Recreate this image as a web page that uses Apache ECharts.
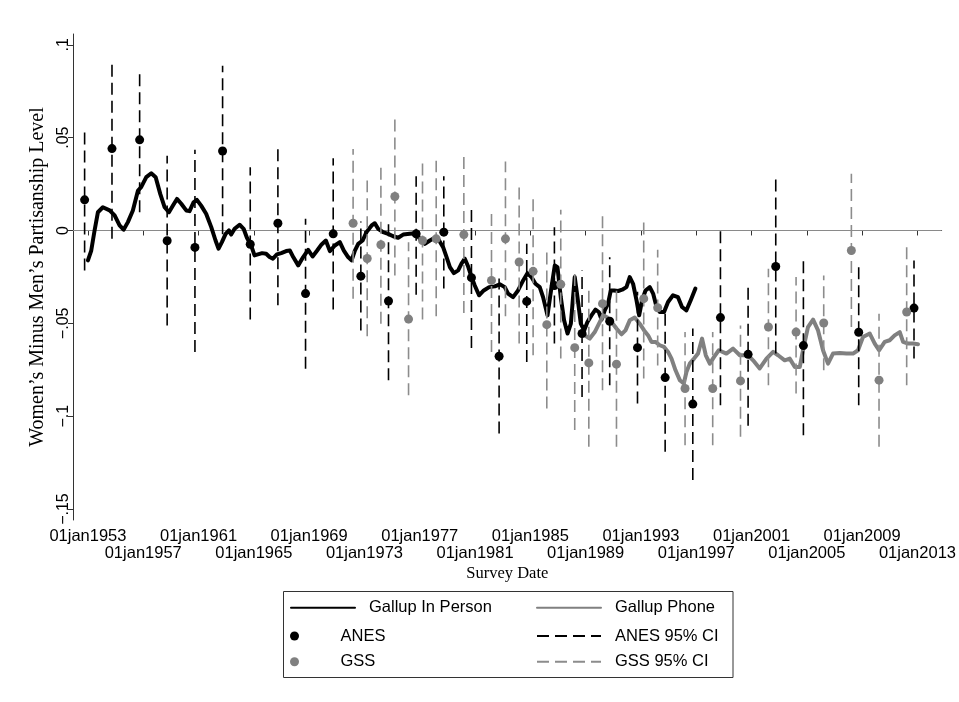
<!DOCTYPE html>
<html>
<head>
<meta charset="utf-8">
<script src="https://cdn.jsdelivr.net/npm/echarts@6/dist/echarts.min.js"></script>
<style>
html,body{margin:0;padding:0;background:#fff;}
#chart{width:959px;height:702px;}
</style>
</head>
<body>
<div id="chart"></div>
<script>
// ---------- data (decimal years, values) ----------
const xTickYears = [1953,1957,1961,1965,1969,1973,1977,1981,1985,1989,1993,1997,2001,2005,2009,2013];
const xLabelRow1 = [1953,1961,1969,1977,1985,1993,2001,2009];
const xLabelRow2 = [1957,1965,1973,1981,1989,1997,2005,2013];
const yTickValues = [-0.15,-0.1,-0.05,0,0.05,0.1];

const gallupInPersonDate = [1953.00,1953.24,1953.48,1953.72,1954.08,1954.57,1954.93,1955.29,1955.58,1955.89,
1956.25,1956.62,1956.85,1957.22,1957.58,1957.90,1958.23,1958.55,1958.86,1959.15,
1959.44,1959.75,1960.11,1960.35,1960.64,1960.88,1961.19,1961.55,1961.92,1962.23,
1962.45,1962.69,1962.96,1963.20,1963.36,1963.61,1963.97,1964.26,1964.50,1964.81,
1965.05,1965.29,1965.60,1965.89,1966.14,1966.38,1966.67,1966.98,1967.34,1967.61,
1967.85,1968.21,1968.57,1968.93,1969.25,1969.58,1969.90,1970.21,1970.50,1970.86,
1971.22,1971.51,1971.82,1972.07,1972.31,1972.55,1972.87,1973.15,1973.52,1973.75,
1973.99,1974.35,1974.71,1975.08,1975.44,1975.80,1976.28,1976.72,1977.01,1977.37,
1977.73,1978.09,1978.40,1978.69,1978.94,1979.18,1979.47,1979.78,1980.02,1980.26,
1980.50,1980.75,1980.98,1981.29,1981.63,1982.02,1982.43,1982.79,1983.15,1983.39,
1983.75,1984.11,1984.48,1984.79,1985.08,1985.37,1985.68,1985.92,1986.24,1986.53,
1986.77,1986.96,1987.20,1987.44,1987.69,1987.93,1988.21,1988.41,1988.65,1988.89,
1989.13,1989.42,1989.71,1989.95,1990.15,1990.38,1990.62,1990.82,1991.06,1991.35,
1991.64,1991.95,1992.19,1992.43,1992.68,1992.87,1993.08,1993.33,1993.64,1993.88,
1994.12,1994.36,1994.67,1994.96,1995.32,1995.68,1995.97,1996.29,1996.60,1996.94];
const gallupInPersonValue = [-0.0161,-0.0108,0.0000,0.0098,0.0125,0.0108,0.0081,0.0027,0.0004,0.0045,
0.0108,0.0215,0.0233,0.0287,0.0308,0.0287,0.0197,0.0125,0.0098,0.0134,
0.0170,0.0144,0.0108,0.0104,0.0152,0.0165,0.0134,0.0090,0.0018,-0.0054,
-0.0098,-0.0063,-0.0018,0.0000,-0.0022,0.0009,0.0031,0.0009,-0.0039,-0.0081,
-0.0134,-0.0129,-0.0122,-0.0125,-0.0143,-0.0152,-0.0129,-0.0122,-0.0111,-0.0108,
-0.0143,-0.0188,-0.0143,-0.0104,-0.0140,-0.0108,-0.0075,-0.0054,-0.0111,-0.0081,
-0.0063,-0.0108,-0.0143,-0.0161,-0.0108,-0.0072,-0.0054,-0.0009,0.0027,0.0039,
0.0009,-0.0009,-0.0018,-0.0031,-0.0039,-0.0022,-0.0018,-0.0015,-0.0045,-0.0072,
-0.0054,-0.0039,-0.0054,-0.0090,-0.0144,-0.0197,-0.0230,-0.0215,-0.0179,-0.0152,
-0.0194,-0.0251,-0.0296,-0.0349,-0.0323,-0.0305,-0.0301,-0.0290,-0.0305,-0.0340,
-0.0359,-0.0323,-0.0269,-0.0230,-0.0251,-0.0287,-0.0305,-0.0359,-0.0457,-0.0305,
-0.0188,-0.0197,-0.0359,-0.0484,-0.0555,-0.0502,-0.0251,-0.0359,-0.0502,-0.0538,
-0.0493,-0.0457,-0.0426,-0.0439,-0.0480,-0.0430,-0.0394,-0.0323,-0.0323,-0.0326,
-0.0319,-0.0305,-0.0251,-0.0287,-0.0376,-0.0457,-0.0376,-0.0323,-0.0305,-0.0340,
-0.0409,-0.0439,-0.0439,-0.0385,-0.0349,-0.0359,-0.0412,-0.0430,-0.0376,-0.0313];

const gallupPhoneDate = [1988.94,1989.30,1989.66,1990.02,1990.26,1990.58,1990.87,1991.23,1991.59,1991.88,
1992.19,1992.55,1992.91,1993.23,1993.52,1993.76,1994.05,1994.36,1994.67,1994.96,
1995.21,1995.50,1995.81,1996.10,1996.29,1996.53,1996.84,1997.13,1997.42,1997.69,
1997.98,1998.29,1998.63,1999.18,1999.66,2000.15,2000.75,2001.11,2001.59,2002.08,
2002.56,2002.92,2003.40,2003.76,2004.13,2004.49,2004.72,2005.08,2005.45,2005.81,
2006.17,2006.53,2006.89,2007.38,2007.86,2008.34,2008.70,2009.06,2009.55,2009.91,
2010.22,2010.63,2010.99,2011.35,2011.72,2011.96,2012.32,2012.68,2013.04];
const gallupPhoneValue = [-0.0565,-0.0582,-0.0547,-0.0493,-0.0457,-0.0469,-0.0493,-0.0528,-0.0559,-0.0538,
-0.0484,-0.0469,-0.0502,-0.0538,-0.0565,-0.0600,-0.0600,-0.0618,-0.0627,-0.0654,
-0.0690,-0.0753,-0.0806,-0.0824,-0.0762,-0.0717,-0.0690,-0.0663,-0.0582,-0.0672,
-0.0717,-0.0681,-0.0645,-0.0663,-0.0636,-0.0672,-0.0672,-0.0699,-0.0743,-0.0690,
-0.0654,-0.0672,-0.0699,-0.0690,-0.0735,-0.0735,-0.0645,-0.0520,-0.0480,-0.0538,
-0.0645,-0.0717,-0.0663,-0.0660,-0.0663,-0.0663,-0.0645,-0.0574,-0.0555,-0.0609,
-0.0645,-0.0600,-0.0591,-0.0565,-0.0547,-0.0600,-0.0609,-0.0609,-0.0613];

const anesDate = [1952.76,1954.74,1956.74,1958.73,1960.74,1962.74,1964.74,1966.74,1968.74,1970.74,
1972.74,1974.74,1976.74,1978.74,1980.74,1982.74,1984.74,1986.74,1988.74,1990.74,
1992.75,1994.75,1996.75,1998.75,2000.75,2002.75,2004.75,2008.75,2012.75];
const anesValue = [0.0165,0.0441,0.0488,-0.0055,-0.0091,0.0428,-0.0074,0.0039,-0.0340,-0.0018,
-0.0246,-0.0380,-0.0018,-0.0009,-0.0254,-0.0677,-0.0382,-0.0296,-0.0555,-0.0489,
-0.0631,-0.0792,-0.0935,-0.0469,-0.0667,-0.0194,-0.0620,-0.0548,-0.0418];
const anesLow = [-0.0215,-0.0045,0.0098,-0.0511,-0.0654,-0.0020,-0.0480,-0.0403,-0.0744,-0.0426,
-0.0538,-0.0806,-0.0346,-0.0313,-0.0633,-0.1093,-0.0708,-0.0609,-0.0896,-0.0833,
-0.0932,-0.1192,-0.1344,-0.0941,-0.1052,-0.0663,-0.1102,-0.0941,-0.0690];
const anesHigh = [0.0528,0.0923,0.0842,0.0403,0.0435,0.0887,0.0340,0.0457,0.0063,0.0389,
0.0048,0.0045,0.0292,0.0292,0.0117,-0.0258,-0.0072,0.0018,-0.0215,-0.0144,
-0.0330,-0.0448,-0.0528,0.0000,-0.0301,0.0287,-0.0144,-0.0188,-0.0161];

const gssDate = [1972.18,1973.20,1974.19,1975.20,1976.19,1977.20,1978.19,1980.19,1982.19,1983.20,
1984.19,1985.20,1986.19,1987.20,1988.21,1989.23,1990.22,1991.23,1993.20,1994.21,
1996.19,1998.19,2000.20,2002.22,2004.22,2006.22,2008.22,2010.22,2012.22];
const gssValue = [0.0039,-0.0151,-0.0077,0.0183,-0.0477,-0.0054,-0.0045,-0.0022,-0.0269,-0.0045,
-0.0170,-0.0220,-0.0507,-0.0290,-0.0631,-0.0713,-0.0394,-0.0720,-0.0367,-0.0416,
-0.0851,-0.0851,-0.0810,-0.0520,-0.0547,-0.0498,-0.0108,-0.0806,-0.0439];
const gssLow = [-0.0367,-0.0570,-0.0502,-0.0242,-0.0887,-0.0480,-0.0462,-0.0445,-0.0654,-0.0462,
-0.0609,-0.0672,-0.0959,-0.0690,-0.1075,-0.1165,-0.0860,-0.1165,-0.0797,-0.0727,
-0.1156,-0.1156,-0.1111,-0.0833,-0.0878,-0.0753,-0.0520,-0.1165,-0.0833];
const gssHigh = [0.0439,0.0269,0.0349,0.0601,-0.0063,0.0371,0.0376,0.0399,0.0093,0.0371,
0.0251,0.0188,-0.0090,0.0111,-0.0215,-0.0305,0.0081,-0.0305,0.0063,-0.0104,
-0.0547,-0.0547,-0.0511,-0.0206,-0.0251,-0.0242,0.0305,-0.0448,-0.0081];

// ---------- helpers ----------
function zip(a, b) { return a.map((v, i) => [v, b[i]]); }
function ciSegments(d, lo, hi) {
  const out = [];
  d.forEach((x, i) => { out.push([x, lo[i]], [x, hi[i]], [x, '-']); });
  return out;
}
const SANS = 'Liberation Sans, Arial, Helvetica, sans-serif';
const SERIF = 'Liberation Serif, Times New Roman, serif';
const GRAY = '#808080';
const DASH = [12, 6];
const X_MIN = 1951.92, X_MAX = 2014.75;

const chart = echarts.init(document.getElementById('chart'), null, {renderer: 'canvas'});

function legendItem(name, left, top, isLine) {
  const d = {name: name};
  if (isLine) d.itemStyle = {opacity: 0};
  else d.icon = 'circle';
  return {
    data: [d], left: left, top: top, orient: 'horizontal', padding: 0,
    itemWidth: 64, itemHeight: 9, selectedMode: false,
    textStyle: {fontFamily: SANS, fontSize: 16.5, color: '#000', lineHeight: 18, padding: [0, 0, 0, 9]}
  };
}
function yearLabel(v) { return '01jan' + Math.round(v); }

const option = {
  animation: false,
  backgroundColor: '#fff',
  grid: {left: 73, right: 17, top: 34, bottom: 182, containLabel: false},
  xAxis: [
    {
      type: 'value', min: X_MIN, max: X_MAX,
      axisLine: {show: true, lineStyle: {color: '#333', width: 1}},
      axisTick: {show: true, customValues: xTickYears, length: 5, lineStyle: {color: '#333'}},
      axisLabel: {
        customValues: xLabelRow1, margin: 8, color: '#000',
        showMinLabel: true, showMaxLabel: true, hideOverlap: false,
        fontFamily: SANS, fontSize: 16.5, lineHeight: 17, formatter: yearLabel
      },
      splitLine: {show: false},
      name: 'Survey Date', nameLocation: 'middle', nameGap: 45,
      nameTextStyle: {fontFamily: SERIF, fontSize: 16.5, color: '#000'}
    },
    {
      type: 'value', min: X_MIN, max: X_MAX, position: 'bottom',
      axisLine: {show: false}, axisTick: {show: false},
      axisLabel: {
        customValues: xLabelRow2, margin: 25, color: '#000',
        showMinLabel: true, showMaxLabel: true, hideOverlap: false,
        fontFamily: SANS, fontSize: 16.5, lineHeight: 17, formatter: yearLabel
      },
      splitLine: {show: false}
    }
  ],
  yAxis: {
    type: 'value', min: -0.1559, max: 0.1058,
    axisLine: {show: true, lineStyle: {color: '#333', width: 1}},
    axisTick: {show: true, customValues: yTickValues, length: 5, lineStyle: {color: '#333'}},
    axisLabel: {
      customValues: yTickValues, rotate: 90, margin: 1, color: '#000',
      showMinLabel: true, showMaxLabel: true,
      fontFamily: SANS, fontSize: 16,
      formatter: function (v) {
        if (Math.abs(v) < 1e-9) return '0';
        const s = String(Math.abs(+v.toFixed(4))).replace(/^0/, '');
        return (v < 0 ? '\u2212' : '') + s;
      }
    },
    splitLine: {show: false},
    name: 'Women\u2019s Minus Men\u2019s Partisanship Level', nameLocation: 'middle', nameGap: 21,
    nameRotate: 90,
    nameTextStyle: {fontFamily: SERIF, fontSize: 20, color: '#000'}
  },
  legend: [
    legendItem('Gallup In Person', 290, 598.7, true),
    legendItem('ANES', 290, 627, false),
    legendItem('GSS', 290, 652.7, false),
    legendItem('Gallup Phone', 536, 598.7, true),
    legendItem('ANES 95% CI', 536, 627, true),
    legendItem('GSS 95% CI', 536, 652.7, true)
  ],
  graphic: [
    {type: 'rect', shape: {x: 283.5, y: 591.5, width: 449.5, height: 86},
     style: {fill: 'none', stroke: '#333', lineWidth: 1}, silent: true}
  ],
  series: [
    {
      name: 'Gallup In Person', type: 'line', data: zip(gallupInPersonDate, gallupInPersonValue),
      symbol: 'none', showSymbol: false, color: '#000',
      lineStyle: {color: '#000', width: 4, join: 'round', cap: 'round'},
      markLine: {
        silent: true, symbol: 'none', label: {show: false},
        lineStyle: {color: '#8a8a8a', width: 1, type: 'solid'},
        data: [{yAxis: 0}], z: 1
      },
      z: 2
    },
    {
      name: 'Gallup Phone', type: 'line', data: zip(gallupPhoneDate, gallupPhoneValue),
      symbol: 'none', showSymbol: false, color: GRAY,
      lineStyle: {color: GRAY, width: 4, join: 'round', cap: 'round'}, z: 2
    },
    {
      name: 'ANES 95% CI', type: 'line', data: ciSegments(anesDate, anesLow, anesHigh),
      symbol: 'none', showSymbol: false, connectNulls: false, color: '#000',
      lineStyle: {color: '#000', width: 1.6, type: DASH}, z: 3
    },
    {
      name: 'GSS 95% CI', type: 'line', data: ciSegments(gssDate, gssLow, gssHigh),
      symbol: 'none', showSymbol: false, connectNulls: false, color: '#8c8c8c',
      lineStyle: {color: '#8c8c8c', width: 1.6, type: DASH}, z: 3
    },
    {
      name: 'ANES', type: 'scatter', data: zip(anesDate, anesValue),
      symbol: 'circle', symbolSize: 9, itemStyle: {color: '#000', opacity: 1}, z: 4
    },
    {
      name: 'GSS', type: 'scatter', data: zip(gssDate, gssValue),
      symbol: 'circle', symbolSize: 9, itemStyle: {color: GRAY, opacity: 1}, z: 4
    }
  ]
};
chart.setOption(option);
</script>
</body>
</html>
